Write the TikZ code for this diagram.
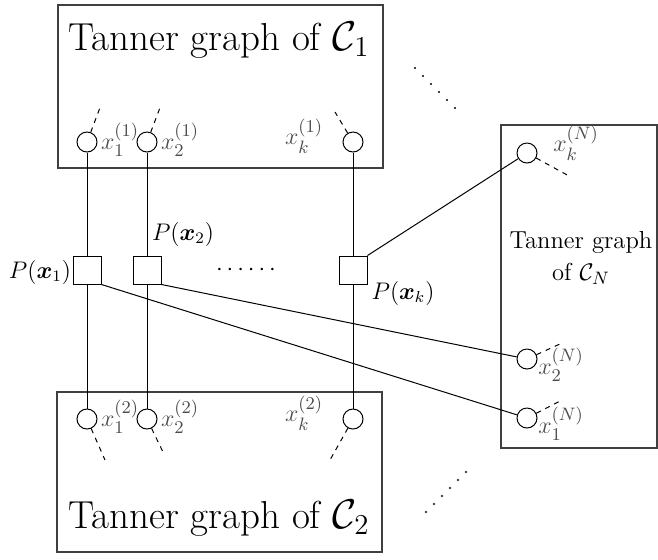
\documentclass[tikz,border=0pt]{standalone}
\usepackage{amsmath,amssymb}
\begin{document}
\begin{tikzpicture}[x=0.5pt,y=-0.5pt,
  boxline/.style={draw=black!75,line width=0.75pt},
  vnode/.style={circle,draw,line width=0.5pt,minimum size=10pt,inner sep=0pt},
  cnode/.style={rectangle,draw,line width=0.5pt,minimum size=14pt,inner sep=0pt},
  edge/.style={line width=0.5pt},
  stub/.style={line width=0.5pt,dash pattern=on 2.5pt off 2.5pt},
  big/.style={font=\fontsize{19.5}{23}\selectfont},
  lab/.style={font=\fontsize{11.8}{13}\selectfont,inner sep=0pt},
  vlab/.style={font=\fontsize{13.2}{15}\selectfont,inner sep=0pt,text=black!70},
  dotc/.style={circle,fill=black,inner sep=0pt,minimum size=1.2pt}
]
\useasboundingbox (0,0) rectangle (658,559);
% boxes
\draw[boxline] (58,5) rectangle (383,168);
\draw[boxline] (57,392) rectangle (382,552);
\draw[boxline] (501,125) rectangle (657,448);
\node[big] (tt) at (219,40) {Tanner graph of $\mathcal{C}_1$};
\node[big] (tb) at (219,518) {Tanner graph of $\mathcal{C}_2$};
\node[font=\fontsize{12.3}{14}\selectfont,inner sep=0pt,align=center] (tn) at (581,258) {Tanner graph\\[2pt] of $\mathcal{C}_N$};
% top variable nodes
\node[vnode] (t1) at (87,142) {};
\node[vnode] (t2) at (147,142) {};
\node[vnode] (tk) at (353,142) {};
\node[vlab] (lt1) at (120,140) {$x_1^{(1)}$};
\node[vlab] (lt2) at (180,140) {$x_2^{(1)}$};
\node[vlab] (ltk) at (304,136) {$x_k^{(1)}$};
\coordinate (st1) at (101,105);
\coordinate (st2) at (161,105);
\coordinate (stk) at (335,112);
\draw[stub] (t1) -- (st1);
\draw[stub] (t2) -- (st2);
\draw[stub] (tk) -- (stk);
% bottom variable nodes
\node[vnode] (b1) at (87,419) {};
\node[vnode] (b2) at (147,419) {};
\node[vnode] (bk) at (353,419) {};
\node[vlab] (lb1) at (120,417) {$x_1^{(2)}$};
\node[vlab] (lb2) at (180,417) {$x_2^{(2)}$};
\node[vlab] (lbk) at (304,413) {$x_k^{(2)}$};
\coordinate (sb1) at (105,460);
\coordinate (sb2) at (163,452);
\coordinate (sbk) at (330,460);
\draw[stub] (b1) -- (sb1);
\draw[stub] (b2) -- (sb2);
\draw[stub] (bk) -- (sbk);
% right variable nodes
\node[vnode] (nk) at (527,153) {};
\node[vnode] (n2) at (527,359) {};
\node[vnode] (n1) at (527,418) {};
\node[vlab] (lnk) at (576,143) {$x_k^{(N)}$};
\node[vlab] (ln2) at (561,365) {$x_2^{(N)}$};
\node[vlab] (ln1) at (561,424) {$x_1^{(N)}$};
\coordinate (snk) at (569,176);
\coordinate (sn2) at (562,343);
\coordinate (sn1) at (562,400);
\draw[stub] (nk) -- (snk);
\draw[stub] (n2) -- (sn2);
\draw[stub] (n1) -- (sn1);
% check nodes
\node[cnode] (s1) at (87,270) {};
\node[cnode] (s2) at (147,270) {};
\node[cnode] (sk) at (353,270) {};
\node[lab] (p1) at (40,272) {$P(\boldsymbol{x}_1)$};
\node[lab] (p2) at (183,234) {$P(\boldsymbol{x}_2)$};
\node[lab] (pk) at (403,293) {$P(\boldsymbol{x}_k)$};
\node[lab] (dd) at (248,270) {$\cdots\cdots$};
% connectors
\draw[edge] (t1) -- (s1) -- (b1);
\draw[edge] (t2) -- (s2) -- (b2);
\draw[edge] (tk) -- (sk) -- (bk);
\draw[edge] (sk.north east) -- (nk);
\draw[edge] (s2.south east) -- (n2);
\draw[edge] (s1.south east) -- (n1);
% diagonal dots
\foreach \i in {0,...,5} {
  \node[dotc] (ua\i) at ({415+8*\i},{68+8*\i}) {};
  \node[dotc] (la\i) at ({426+8*\i},{512-8*\i}) {};
}
\end{tikzpicture}
\end{document}
